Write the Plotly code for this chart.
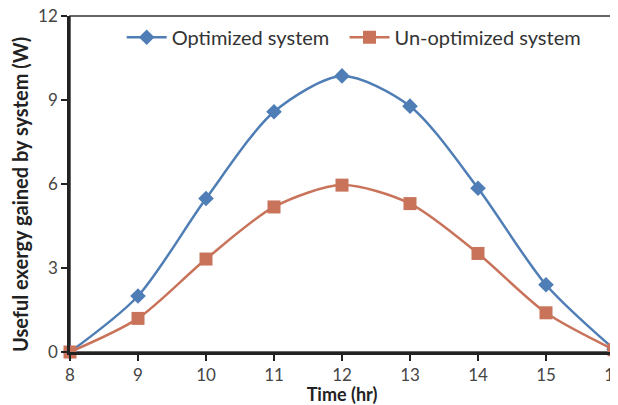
import plotly.graph_objects as go

time_hr = [8, 9, 10, 11, 12, 13, 14, 15, 16]
optimized = [0, 2.0, 5.48, 8.58, 9.86, 8.78, 5.85, 2.4, 0.1]
unoptimized = [0, 1.2, 3.32, 5.18, 5.96, 5.3, 3.52, 1.4, 0.08]
x_ticks = [8, 9, 10, 11, 12, 13, 14, 15, 16]
y_ticks = [0, 3, 6, 9, 12]
series_names = ["Optimized system", "Un-optimized system"]

blue = "#4F7DB5"
orange = "#C8735A"
font_family = "Lato, 'Open Sans', sans-serif"

fig = go.Figure()
fig.add_trace(go.Scatter(
    x=time_hr, y=optimized, name=series_names[0] + "\u00a0\u00a0", mode="lines+markers",
    line=dict(color=blue, width=2.5, shape="spline", smoothing=0.8),
    marker=dict(symbol="diamond", size=12, color=blue),
    cliponaxis=False,
))
fig.add_trace(go.Scatter(
    x=time_hr, y=unoptimized, name=series_names[1], mode="lines+markers",
    line=dict(color=orange, width=2.5, shape="spline", smoothing=0.8),
    marker=dict(symbol="square", size=13, color=orange),
    cliponaxis=False,
))

# page body has an 8px default margin, so the figure is sized to fit the window
fig.update_layout(
    width=610, height=397,
    margin=dict(l=62, r=4, t=8, b=53, autoexpand=False),
    paper_bgcolor="white", plot_bgcolor="white",
    font=dict(family=font_family, color="#404040", size=17),
    legend=dict(orientation="h", x=0.095, y=0.995, xanchor="left", yanchor="top",
                font=dict(size=20, color="#333333"), bgcolor="rgba(0,0,0,0)",
                itemwidth=40),
    showlegend=True,
)
fig.update_xaxes(
    range=[8, 16], tickvals=x_ticks, ticktext=[str(v) for v in x_ticks],
    showgrid=False, zeroline=False, automargin=False, ticklabeloverflow="allow",
    showline=True, linecolor="#222222", linewidth=2.5,
    ticks="outside", ticklen=6, tickwidth=1.5, tickcolor="#222222",
    tickfont=dict(size=17, color="#454545"),
    title=dict(text="<b>Time (hr)</b>", font=dict(size=18, color="#222222"), standoff=1),
)
fig.update_yaxes(
    range=[0, 12], tickvals=y_ticks, ticktext=[str(v) for v in y_ticks],
    showgrid=False, zeroline=False, automargin=False, ticklabeloverflow="allow",
    showline=True, linecolor="#222222", linewidth=2.5,
    ticks="outside", ticklen=6, tickwidth=1.5, tickcolor="#222222",
    tickfont=dict(size=17, color="#454545"),
)
fig.add_annotation(
    text="<b>Useful exergy gained by system (W)</b>", xref="paper", yref="paper",
    x=-0.092, y=0.47, xanchor="center", yanchor="middle", textangle=-90,
    showarrow=False, font=dict(size=20, color="#222222"),
)
fig.add_shape(type="rect", xref="paper", yref="paper", x0=0, y0=0, x1=1, y1=1,
              line=dict(color="#333333", width=1.5), layer="below")

fig.write_html("out.html")
